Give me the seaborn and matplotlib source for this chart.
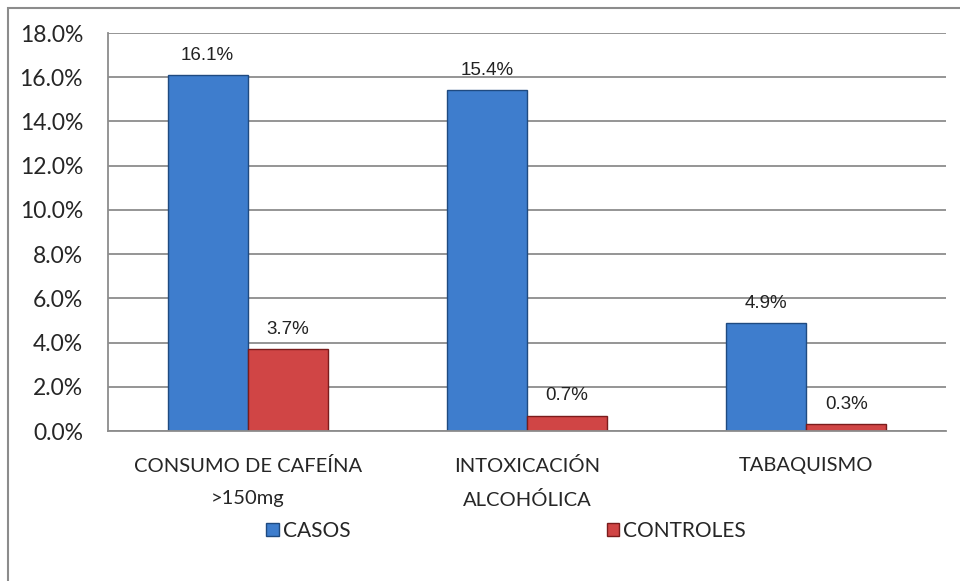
import pandas as pd
import matplotlib.pyplot as plt
import seaborn as sns
from matplotlib.patches import Rectangle
from matplotlib.ticker import FuncFormatter

# datos
categorias = ["CONSUMO DE CAFEÍNA\n>150mg", "INTOXICACIÓN\nALCOHÓLICA", "TABAQUISMO"]
casos = [16.1, 15.4, 4.9]
controles = [3.7, 0.7, 0.3]
grupos = ["CASOS", "CONTROLES"]

df = pd.DataFrame({
    "categoria": categorias * 2,
    "grupo": ["CASOS"] * 3 + ["CONTROLES"] * 3,
    "valor": casos + controles,
})

sns.set_style("white")
plt.rcParams['font.family'] = ['Lato', 'DejaVu Sans']

fig = plt.figure(figsize=(9.6, 5.81), dpi=100)
ax = fig.add_axes([108 / 960, 1 - 431 / 581, 838 / 960, 398 / 581])

colores = {"CASOS": "#3E7DCD", "CONTROLES": "#D04545"}
sns.barplot(data=df, x="categoria", y="valor", hue="grupo", hue_order=grupos,
            order=categorias, palette=colores, width=0.573, ax=ax, saturation=1,
            edgecolor="none", linewidth=0, legend=False)

# bordes oscuros de las barras
bordes = {"CASOS": "#1F4A80", "CONTROLES": "#7A1C1C"}
for cont, g in zip(ax.containers, grupos):
    for b in cont:
        b.set_edgecolor(bordes[g])
        b.set_linewidth(1.0)
    ax.bar_label(cont, fmt="%.1f%%", padding=8, fontsize=13.5,
                 family=['Liberation Sans'], color="#222222")

ax.set_ylim(0, 18)
ax.set_yticks([i * 2 for i in range(10)])
ax.yaxis.set_major_formatter(FuncFormatter(lambda v, p: f"{v:.1f}%"))
ax.set_xlabel("")
ax.set_ylabel("")
ax.grid(axis="y", color="#8C8C8C", linewidth=1.3)
ax.set_axisbelow(True)
for s in ["top", "right"]:
    ax.spines[s].set_visible(False)
for s in ["left", "bottom"]:
    ax.spines[s].set_color("#8C8C8C")
    ax.spines[s].set_linewidth(1.3)
ax.tick_params(axis="y", length=5, width=1.3, color="#8C8C8C", labelsize=16.5, pad=13)
ax.tick_params(axis="x", length=0, labelsize=14.5, pad=19)

# interlineado de las etiquetas de categoría
fig.canvas.draw()
for tk in ax.xaxis.get_major_ticks():
    tk.label1.set_linespacing(2.05)

# leyenda
handles = [Rectangle((0, 0), 1, 1, facecolor=colores[g], edgecolor=bordes[g]) for g in grupos]
fig.legend(handles, grupos, loc="center", bbox_to_anchor=(506 / 960, 1 - 531 / 581),
           ncol=2, frameon=False, fontsize=15,
           handlelength=0.6, handleheight=0.6, handletextpad=0.2, columnspacing=12.3)

# marco exterior
fig.patches.append(Rectangle((7.5 / 960, -0.1), 1.2, 1 - 8 / 581 + 0.1,
                             transform=fig.transFigure, fill=False,
                             edgecolor="#8C8C8C", linewidth=1.5))

fig.savefig("out.png", dpi=100)
